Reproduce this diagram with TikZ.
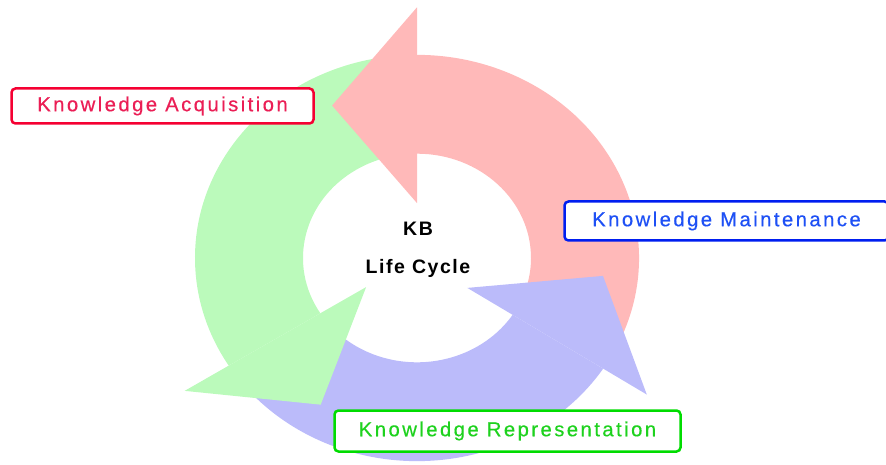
\documentclass[tikz,border=0pt]{standalone}
\usepackage{fontspec}
\setmainfont{Liberation Sans}
\newfontfamily\stagefont[LetterSpace=12, FakeBold=0.4]{Liberation Sans}
\newfontfamily\cyclefont[LetterSpace=8]{Liberation Sans}
\usetikzlibrary{positioning}

\definecolor{pinkband}{RGB}{255,185,185}
\definecolor{greenband}{RGB}{187,250,187}
\definecolor{blueband}{RGB}{187,187,250}
\definecolor{acqline}{RGB}{245,0,50}
\definecolor{acqtext}{RGB}{235,30,85}
\definecolor{mainline}{RGB}{0,30,240}
\definecolor{maintext}{RGB}{30,80,245}
\definecolor{repline}{RGB}{0,220,0}
\definecolor{reptext}{RGB}{30,210,30}

\begin{document}
\begin{tikzpicture}[x=1pt, y=1pt,
	stagebox/.style={draw, line width=2.5pt, rounded corners=4pt, fill=white, inner sep=0pt,
		font=\stagefont\fontsize{20.3pt}{24pt}\selectfont},
	centretext/.style={font=\cyclefont\bfseries\fontsize{19.5pt}{23pt}\selectfont, anchor=base}]

	\clip (0,0) rectangle (886,464);

	%% Cycle arrows
	\begin{scope}[shift={(417,206)}, yscale=0.915]
		% bands
		\fill[pinkband] (-28:222) arc[start angle=-28, end angle=90, radius=222pt]
			-- (90:114) arc[start angle=90, end angle=-28, radius=114pt] -- cycle;
		\fill[greenband] (94:222) arc[start angle=94, end angle=212, radius=222pt]
			-- (212:114) arc[start angle=212, end angle=94, radius=114pt] -- cycle;
		\fill[blueband] (216:222) arc[start angle=216, end angle=327, radius=222pt]
			-- (327:114) arc[start angle=327, end angle=216, radius=114pt] -- cycle;
		% heads
		\fill[pinkband] (90:60) -- (90:274) -- (117:187) -- cycle;
		\fill[greenband] (212:60) -- (212:274) -- (239:187) -- cycle;
		\fill[blueband] (327:60) -- (327:274) -- (354:187) -- cycle;
	\end{scope}

	%% Centre
	\node[centretext] (kb) at (418,228) {KB};
	\node[centretext] (lifecycle) [below=38pt of kb.base, anchor=base] {Life Cycle};

	%% Stages
	\node[stagebox, draw=acqline, text=acqtext, minimum width=302pt, minimum height=35pt]
		(acquisition) at (162.5,358) {Knowledge Acquisition};
	\node[stagebox, draw=mainline, text=maintext, minimum width=324pt, minimum height=39pt]
		(maintenance) at (726.5,243) {Knowledge Maintenance};
	\node[stagebox, draw=repline, text=reptext, minimum width=346pt, minimum height=41pt]
		(representation) at (507.5,33) {Knowledge Representation};

\end{tikzpicture}
\end{document}
